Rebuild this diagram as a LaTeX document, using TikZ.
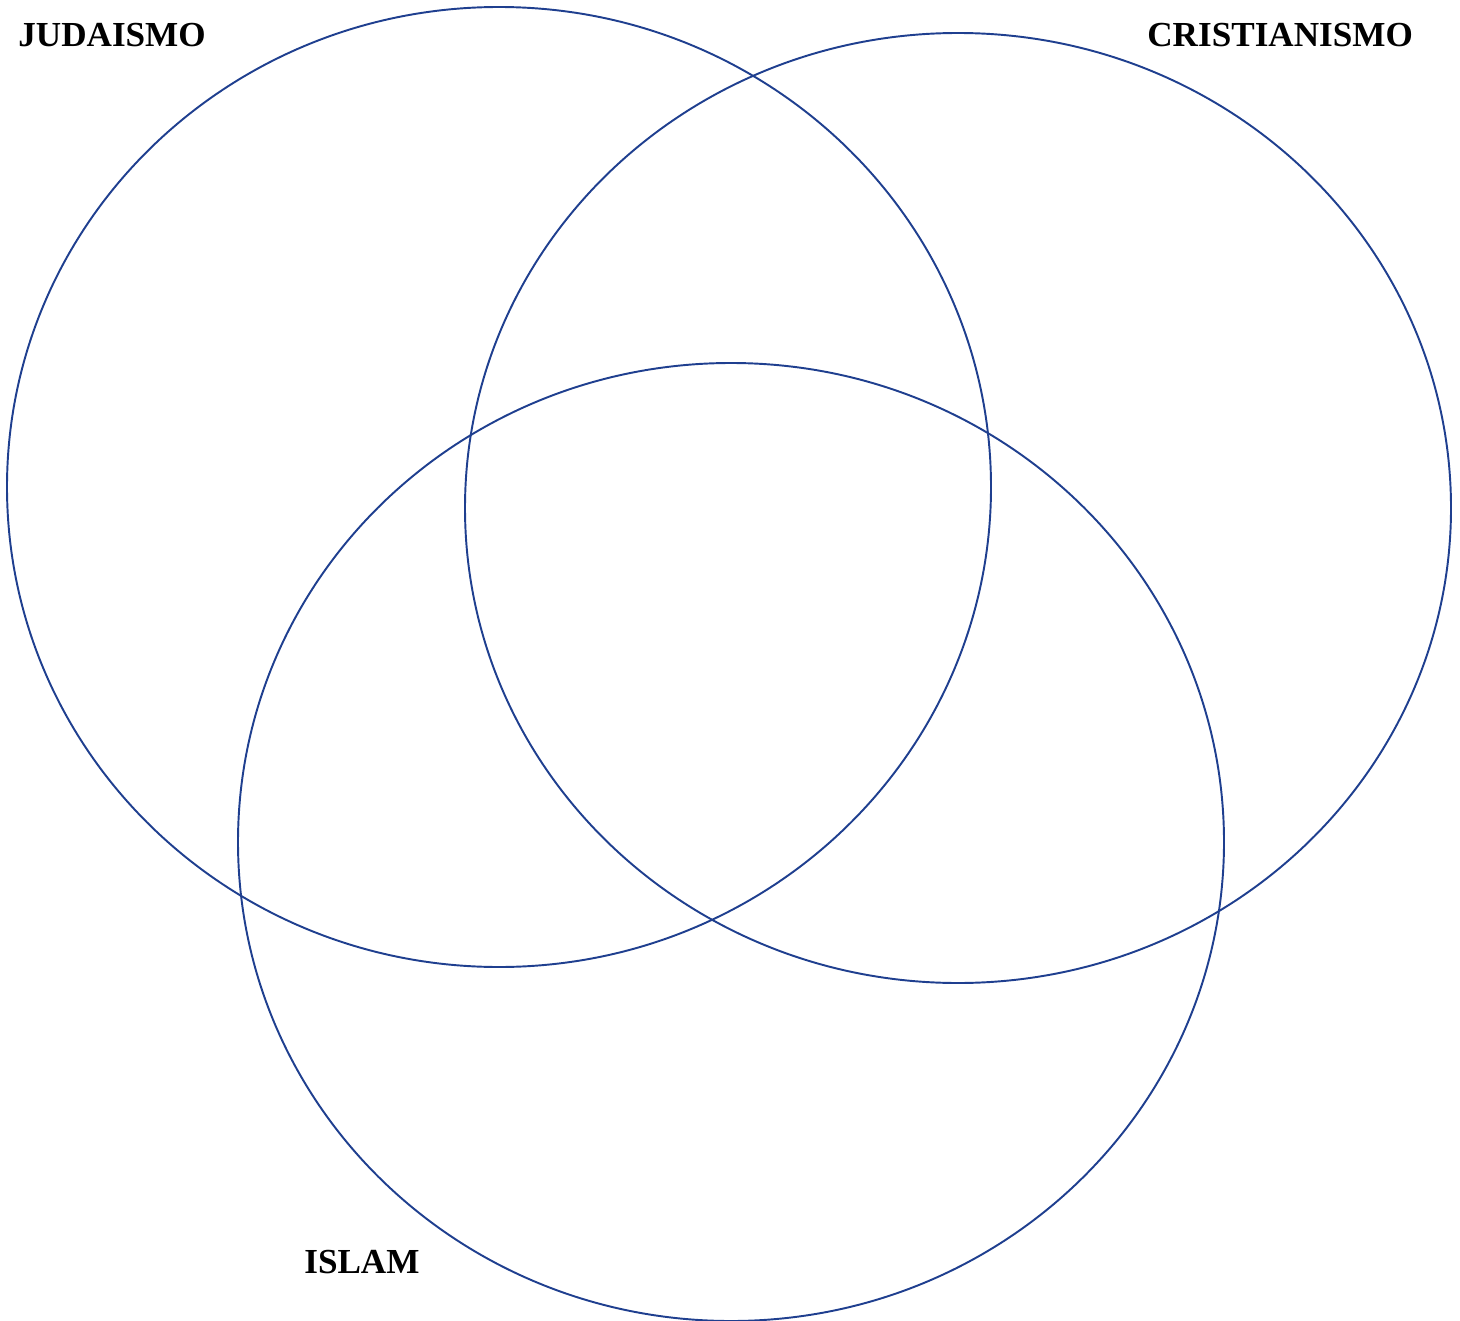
\documentclass[tikz,border=0pt]{standalone}
\usepackage{fontspec}
\setmainfont{Liberation Serif}
\usepackage{tikz}
\usetikzlibrary{positioning}
\definecolor{venblue}{RGB}{31,63,143}
\tikzset{
  vset/.style={venblue, line width=1.1pt},
  vlab/.style={font=\fontsize{20}{24}\selectfont\bfseries, text=black, inner sep=0pt, anchor=base west},
}

\begin{document}
\begin{tikzpicture}[x=0.02cm,y=-0.02cm]
\useasboundingbox (0,0) rectangle (1460,1321);
% the three sets
\draw[vset] (499,487) ellipse [x radius=492, y radius=480];
\draw[vset] (958,508) ellipse [x radius=493, y radius=475];
\draw[vset] (731,842) ellipse [x radius=493, y radius=479];
% names
\node[vlab] (jud) at (18,47) {JUDAISMO};
\node[vlab] (cri) at (1147,47) {CRISTIANISMO};
\node[vlab] (isl) at (304,1273) {ISLAM};
\end{tikzpicture}
\end{document}
